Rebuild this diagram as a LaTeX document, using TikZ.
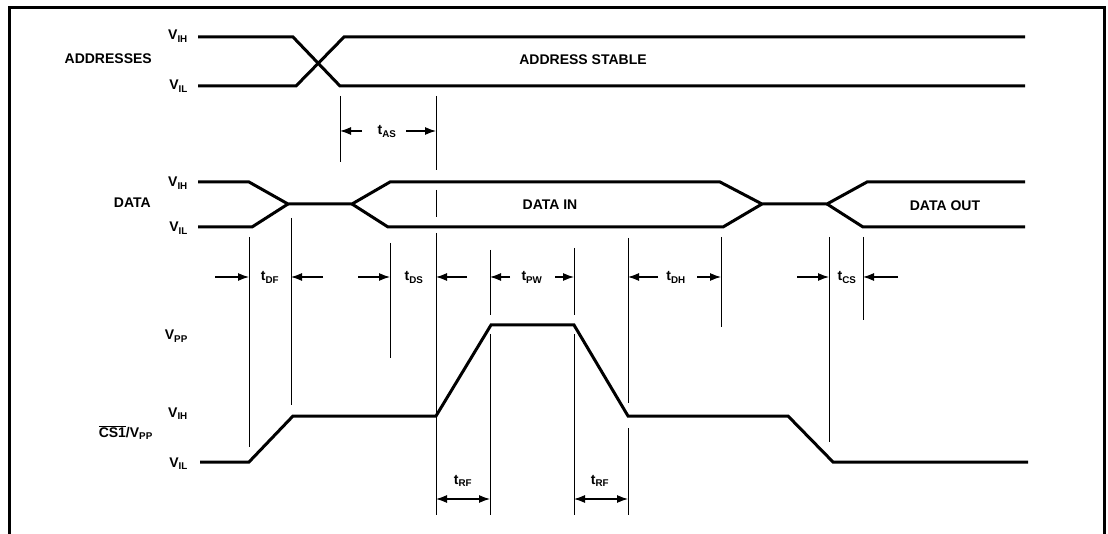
\documentclass[tikz,border=0pt]{standalone}
\usepackage{fontspec}
\setmainfont{Liberation Sans}
\usetikzlibrary{arrows.meta}

\begin{document}
\begin{tikzpicture}[x=1pt, y=-1pt, >={Latex[length=11pt,width=8pt]},
    sig/.style={line width=3pt, line join=miter},
    guide/.style={line width=0.9pt},
    dim/.style={line width=1.2pt},
    lbl/.style={font=\bfseries\fontsize{14}{16}\selectfont, inner sep=0pt},
    lvl/.style={lbl, anchor=base east}]
    \useasboundingbox (0,0) rectangle (1108,534);

    % Khung
    \draw[line width=3pt] (9,534) -- (9,8) -- (1104,8) -- (1104,534);

    % ADDRESSES
    \node[lvl] (aih) at (188,40) {V\textsubscript{IH}};
    \node[lvl] (ail) at (188,90) {V\textsubscript{IL}};
    \node[lvl] (addr) at (152,64) {ADDRESSES};
    \draw[sig] (198,37) -- (293,37) -- (340,86) -- (1025,86);
    \draw[sig] (198,86) -- (296,86) -- (344,37) -- (1025,37);
    \node[lbl, anchor=base] (stable) at (583,65) {ADDRESS STABLE};

    % DATA
    \node[lvl] (dih) at (188,187) {V\textsubscript{IH}};
    \node[lvl] (dil) at (188,232) {V\textsubscript{IL}};
    \node[lvl] (data) at (151,208) {DATA};
    \draw[sig] (198,182) -- (249,182) -- (288,204) -- (352,204) -- (390,182)
        -- (720,182) -- (762,204) -- (827,204) -- (867,182) -- (1025,182);
    \draw[sig] (198,227) -- (252,227) -- (288,204);
    \draw[sig] (352,204) -- (388,227) -- (723,227) -- (762,204);
    \draw[sig] (827,204) -- (863,227) -- (1025,227);
    \node[lbl, anchor=base] (din) at (550,210) {DATA IN};
    \node[lbl, anchor=base] (dout) at (945,211) {DATA OUT};

    % CS1/VPP
    \node[lvl] (cpp) at (188,340) {V\textsubscript{PP}};
    \node[lvl] (cih) at (188,417) {V\textsubscript{IH}};
    \node[lvl] (cil) at (188,467) {V\textsubscript{IL}};
    \node[lvl] (cs) at (153,437) {$\overline{\mbox{CS1}}$/V\textsubscript{PP}};
    \draw[sig] (200,462) -- (249,462) -- (293,416) -- (436,416) -- (491,325)
        -- (574,325) -- (628,416) -- (788,416) -- (833,462) -- (1028,462);

    % Duong gioi han
    \draw[guide] (340,96) -- (340,162);
    \draw[guide] (436,96) -- (436,170) (436,190) -- (436,217) (436,233) -- (436,515);
    \draw[guide] (249,237) -- (249,447);
    \draw[guide] (291,218) -- (291,405);
    \draw[guide] (390,243) -- (390,358);
    \draw[guide] (490,250) -- (490,315) (490,334) -- (490,515);
    \draw[guide] (574,248) -- (574,315) (574,334) -- (574,515);
    \draw[guide] (628,238) -- (628,403) (628,428) -- (628,515);
    \draw[guide] (721,237) -- (721,327);
    \draw[guide] (829,237) -- (829,442);
    \draw[guide] (863,237) -- (863,320);

    % t_AS
    \draw[dim, ->] (362,131) -- (340,131);
    \draw[dim, ->] (406,131) -- (436,131);
    \node[lbl, anchor=base] (tas) at (387,135) {t\textsubscript{AS}};

    % t_DF, t_DS, t_PW, t_DH, t_CS
    \draw[dim, ->] (215,277) -- (249,277);
    \draw[dim, ->] (323,277) -- (291,277);
    \node[lbl, anchor=base] (tdf) at (270,281) {t\textsubscript{DF}};
    \draw[dim, ->] (358,277) -- (390,277);
    \draw[dim, ->] (467,277) -- (436,277);
    \node[lbl, anchor=base] (tds) at (414,281) {t\textsubscript{DS}};
    \draw[dim, ->] (510,277) -- (490,277);
    \draw[dim, ->] (555,277) -- (574,277);
    \node[lbl, anchor=base] (tpw) at (532,281) {t\textsubscript{PW}};
    \draw[dim, ->] (658,277) -- (628,277);
    \draw[dim, ->] (697,277) -- (721,277);
    \node[lbl, anchor=base] (tdh) at (676,281) {t\textsubscript{DH}};
    \draw[dim, ->] (797,277) -- (829,277);
    \draw[dim, ->] (898,277) -- (863,277);
    \node[lbl, anchor=base] (tcs) at (847,281) {t\textsubscript{CS}};

    % t_RF
    \draw[dim, <->] (436,499) -- (490,499);
    \node[lbl, anchor=base] (trf1) at (463,484) {t\textsubscript{RF}};
    \draw[dim, <->] (574,499) -- (628,499);
    \node[lbl, anchor=base] (trf2) at (600,484) {t\textsubscript{RF}};
\end{tikzpicture}
\end{document}
